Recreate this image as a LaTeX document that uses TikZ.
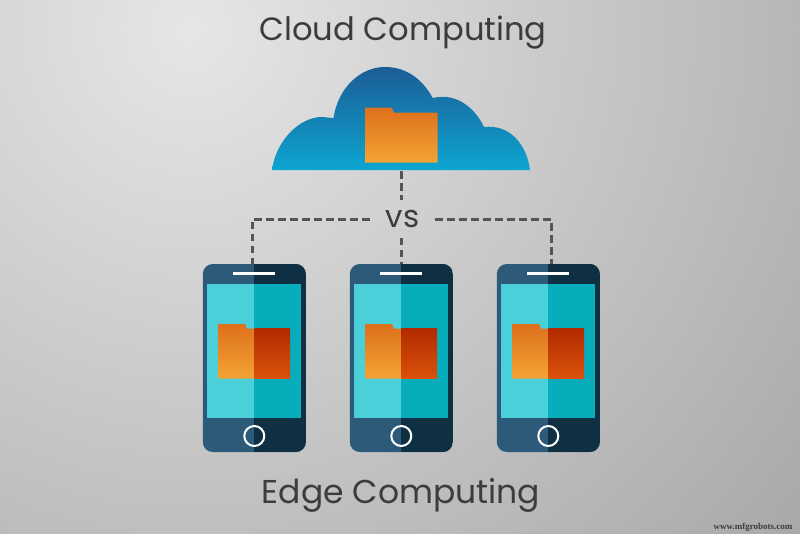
\documentclass[tikz,border=0pt]{standalone}
\usepackage{fontspec}
\setmainfont{Poppins}
\newfontfamily\markfont{Liberation Serif}
\definecolor{bgin}{RGB}{230,230,230}
\definecolor{bgout}{RGB}{152,152,152}
\definecolor{ink}{RGB}{60,60,60}
\definecolor{dash}{RGB}{85,85,85}
\definecolor{cloudtop}{RGB}{28,92,150}
\definecolor{cloudbot}{RGB}{12,166,208}
\definecolor{foldtop}{RGB}{222,112,28}
\definecolor{foldbot}{RGB}{243,164,52}
\definecolor{darktop}{RGB}{178,42,0}
\definecolor{darkbot}{RGB}{218,82,10}
\definecolor{phoneleft}{RGB}{44,90,120}
\definecolor{phoneright}{RGB}{15,47,66}
\definecolor{screenleft}{RGB}{75,207,217}
\definecolor{screenright}{RGB}{7,173,187}
\tikzset{
    phonebody/.style={rounded corners=10pt,inner sep=0pt,minimum width=103pt,minimum height=188pt,fill=phoneleft,
        path picture={\fill[phoneright,sharp corners] (path picture bounding box.north) rectangle (path picture bounding box.south east);}},
    title/.style={text=ink,font=\fontsize{32.2}{38}\selectfont},
    link/.style={draw=dash,line width=3pt,dash pattern=on 7.5pt off 4.5pt},
    homekey/.style={circle,draw=white,line width=2pt,inner sep=0pt,minimum size=20pt},
}
\begin{document}
\begin{tikzpicture}[x=1pt,y=-1pt]
        \useasboundingbox (0,0) rectangle (800,533);
        \begin{scope}
            \clip (0,0) rectangle (800,533);
            \shade[inner color=bgin,outer color=bgout] (190,30) circle (1000);
        \end{scope}
        \node[title] (cloudtitle) at (403,32.5) {Cloud Computing};
        \node[title,font=\fontsize{33}{38}\selectfont] (edgetitle) at (401,495.5) {Edge Computing};
        \shade[top color=cloudtop,bottom color=cloudbot] (272,170) .. controls (276,140) and (300,117) .. (322,117) -- (333.5,118)
            .. controls (338,88) and (360,67) .. (385,67) .. controls (407,67) and (423,80) .. (432.7,98)
            .. controls (458,92) and (476,110) .. (484,127) .. controls (510,124) and (527,145) .. (530,170) -- cycle;
        \shade[top color=foldtop,bottom color=foldbot] (365,162.7) -- (365,107.7) -- (391.7,107.7) -- (394,112.7) -- (437.7,112.7) -- (437.7,162.7) -- cycle;
        \coordinate (cloudbase) at (401,171);
        \node[inner sep=0pt,minimum width=65pt,minimum height=37pt,text=ink,font=\fontsize{31}{36}\selectfont] (vs) at (402.5,219) {vs};
        \begin{scope}
            \node[phonebody] (phoneA) at (254.3,358) {};
            \fill[screenleft] (207.3,284) rectangle (254.3,418);
            \fill[screenright] (254.3,284) rectangle (301,418);
            \fill[white] (233,271.7) rectangle (275.3,274.7);
            \shade[top color=foldtop,bottom color=foldbot] (218,378.7) -- (218,324) -- (245,324) -- (247,328.7) -- (254.3,328.7) -- (254.3,378.7) -- cycle;
            \shade[top color=darktop,bottom color=darkbot] (254.3,328.7) rectangle (290,378.7);
            \node[homekey] (keyA) at (254.3,436) {};
        \end{scope}
        \begin{scope}[xshift=147pt]
            \node[phonebody] (phoneB) at (254.3,358) {};
            \fill[screenleft] (207.3,284) rectangle (254.3,418);
            \fill[screenright] (254.3,284) rectangle (301,418);
            \fill[white] (233,271.7) rectangle (275.3,274.7);
            \shade[top color=foldtop,bottom color=foldbot] (218,378.7) -- (218,324) -- (245,324) -- (247,328.7) -- (254.3,328.7) -- (254.3,378.7) -- cycle;
            \shade[top color=darktop,bottom color=darkbot] (254.3,328.7) rectangle (290,378.7);
            \node[homekey] (keyB) at (254.3,436) {};
        \end{scope}
        \begin{scope}[xshift=294pt]
            \node[phonebody] (phoneC) at (254.3,358) {};
            \fill[screenleft] (207.3,284) rectangle (254.3,418);
            \fill[screenright] (254.3,284) rectangle (301,418);
            \fill[white] (233,271.7) rectangle (275.3,274.7);
            \shade[top color=foldtop,bottom color=foldbot] (218,378.7) -- (218,324) -- (245,324) -- (247,328.7) -- (254.3,328.7) -- (254.3,378.7) -- cycle;
            \shade[top color=darktop,bottom color=darkbot] (254.3,328.7) rectangle (290,378.7);
            \node[homekey] (keyC) at (254.3,436) {};
        \end{scope}
        \draw[link] (cloudbase) -- (cloudbase |- vs.north);
        \draw[link] (cloudbase |- vs.south) -- (cloudbase |- phoneB.north);
        \draw[link] (vs.west) -| ([xshift=-2pt]phoneA.north);
        \draw[link] (vs.east) -| ([xshift=2.7pt]phoneC.north);
        \node[text=ink,font=\markfont\bfseries\fontsize{9}{11}\selectfont] (mark) at (753,527) {www.mfgrobots.com};
    \end{tikzpicture}
\end{document}
